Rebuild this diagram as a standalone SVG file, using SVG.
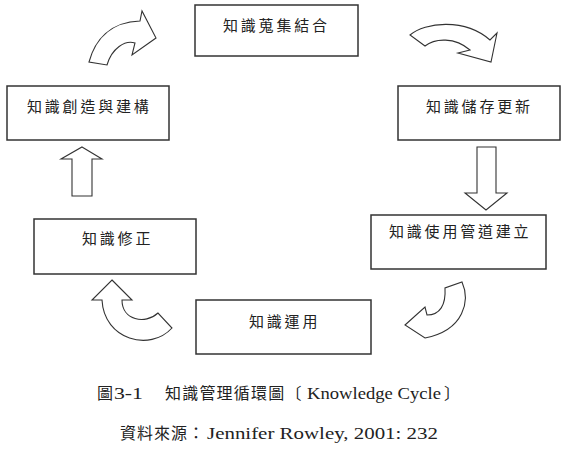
<svg xmlns="http://www.w3.org/2000/svg" width="562" height="458" viewBox="0 0 562 458">
<style>
.box{fill:#fff;stroke:#333;stroke-width:1.5}
.arr{fill:#fff;stroke:#333;stroke-width:1.1;stroke-linejoin:miter}
.lbl{font-family:"Noto Sans CJK TC","Noto Sans CJK SC",sans-serif;font-size:15px;letter-spacing:2.8px;fill:#222}
.cap{font-family:"Noto Sans CJK TC","Noto Sans CJK SC",serif;font-size:16px;fill:#222}
.lat{font-family:"Liberation Serif",serif;font-size:17px;fill:#222}
</style>
<rect width="562" height="458" fill="#fff"/>
<g id="connectors">
<path class="arr" d="M89,62 C95,40 110,22 140,21 L142,11 L156,38 L132,55 L135,43 C125,40 112,48 107,65 Z"/>
<path class="arr" d="M410,35 C425,22 465,18 490,40 L497,33 L491,62 L458,53 L470,50 C455,37 435,38 425,46 Z"/>
<path class="arr" d="M477,147 L496,147 L496,193 L507,193 L486,210 L465,193 L477,193 Z"/>
<path class="arr" d="M462,282 C470,300 465,330 425,338 L405,325 L425,307 L427,315 C440,315 446,305 445,288 Z"/>
<path class="arr" d="M112,280 L132,300 L122,300 C122,320 145,325 158,313 L172,328 C150,352 104,340 102,300 L92,300 Z"/>
<path class="arr" d="M82,147 L102,159 L92,159 L92,196 L72,196 L72,159 L61,159 Z"/>
</g>
<g id="n1"><rect class="box" x="195" y="5" width="163" height="51"/><text class="lbl" x="223" y="31">知識蒐集結合</text></g>
<g id="n2"><rect class="box" x="398" y="86" width="162" height="54"/><text class="lbl" x="426" y="112">知識儲存更新</text></g>
<g id="n3"><rect class="box" x="371" y="215" width="175" height="54"/><text class="lbl" x="389" y="237" letter-spacing="2">知識使用管道建立</text></g>
<g id="n4"><rect class="box" x="196" y="300" width="175" height="54"/><text class="lbl" x="249" y="327">知識運用</text></g>
<g id="n5"><rect class="box" x="34" y="219" width="162" height="55"/><text class="lbl" x="82" y="244">知識修正</text></g>
<g id="n6"><rect class="box" x="7" y="86" width="162" height="54"/><text class="lbl" x="27" y="112">知識創造與建構</text></g>
<g id="caption">
<text class="cap" x="97" y="399">圖</text>
<text class="lat" x="114" y="399" textLength="29" lengthAdjust="spacingAndGlyphs">3-1</text>
<text class="cap" x="165" y="399" letter-spacing="1.2">知識管理循環圖〔</text>
<text class="lat" x="307" y="399" textLength="134" lengthAdjust="spacingAndGlyphs">Knowledge Cycle</text>
<text class="cap" x="444" y="399">〕</text>
<text class="cap" x="120" y="439" letter-spacing="1">資料來源：</text>
<text class="lat" x="207" y="439" textLength="231" lengthAdjust="spacingAndGlyphs">Jennifer Rowley, 2001: 232</text>
</g>
</svg>
